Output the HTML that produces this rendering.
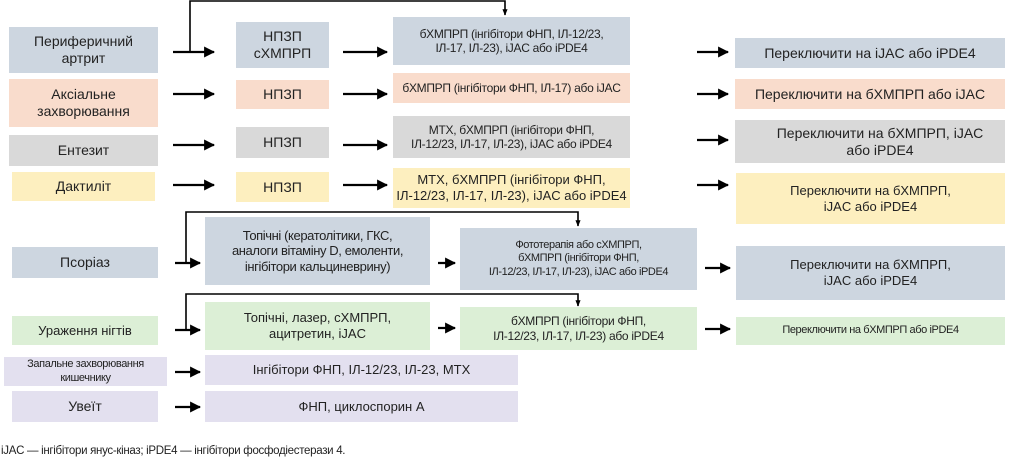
<!DOCTYPE html>
<html><head><meta charset="utf-8"><style>
body{margin:0;width:1016px;height:469px;background:#fff;position:relative;overflow:hidden;font-family:"Liberation Sans",sans-serif;color:#222}
.b{position:absolute;display:flex;align-items:center;justify-content:center;text-align:center;line-height:1.2;box-sizing:border-box}
.bl{background:#cdd6e0}.pe{background:#f9dccc}.gr{background:#d9d9d9}.ye{background:#fdefbf}.gn{background:#dcefd6}.lv{background:#e3e0ef}
.f14{font-size:14px}.f13{font-size:13px}.f12{font-size:12px;letter-spacing:-0.3px}.f11{font-size:11px;letter-spacing:-0.4px}
svg{position:absolute;left:0;top:0}
</style></head><body>
<div class="b bl f14" style="left:9px;top:27px;width:149px;height:46px">Периферичний<br>артрит</div>
<div class="b bl f14" style="left:236px;top:22px;width:93px;height:46px">НПЗП<br>сХМПРП</div>
<div class="b bl f12" style="left:393px;top:17px;width:237px;height:48px">бХМПРП (інгібітори ФНП, ІЛ-12/23,<br>ІЛ-17, ІЛ-23), іJAC або іPDE4</div>
<div class="b bl f14" style="left:735px;top:38px;width:270px;height:30px">Переключити на іJAC або іPDE4</div>

<div class="b pe f14" style="left:9px;top:79px;width:149px;height:48px">Аксіальне<br>захворювання</div>
<div class="b pe f14" style="left:236px;top:80px;width:93px;height:29px">НПЗП</div>
<div class="b pe f12" style="left:393px;top:73px;width:237px;height:30px">бХМПРП (інгібітори ФНП, ІЛ-17) або іJAC</div>
<div class="b pe f14" style="left:735px;top:79px;width:270px;height:30px">Переключити на бХМПРП або іJAC</div>

<div class="b gr f14" style="left:9px;top:135px;width:149px;height:31px">Ентезит</div>
<div class="b gr f14" style="left:236px;top:127px;width:93px;height:31px">НПЗП</div>
<div class="b gr f12" style="left:393px;top:116px;width:237px;height:42px">МТХ, бХМПРП (інгібітори ФНП,<br>ІЛ-12/23, ІЛ-17, ІЛ-23), іJAC або іPDE4</div>
<div class="b gr f14" style="left:735px;top:120px;width:270px;height:43px;padding-left:20px">Переключити на бХМПРП, іJAC<br>або іPDE4</div>

<div class="b ye f14" style="left:12px;top:172px;width:143px;height:29px">Дактиліт</div>
<div class="b ye f14" style="left:236px;top:172px;width:93px;height:30px">НПЗП</div>
<div class="b ye f13" style="left:393px;top:168px;width:237px;height:40px">МТХ, бХМПРП (інгібітори ФНП,<br>ІЛ-12/23, ІЛ-17, ІЛ-23), іJAC або іPDE4</div>
<div class="b ye f13" style="left:736px;top:173px;width:269px;height:51px">Переключити на бХМПРП,<br>іJAC або іPDE4</div>

<div class="b bl f14" style="left:12px;top:247px;width:146px;height:31px">Псоріаз</div>
<div class="b bl f13" style="left:205px;top:217px;width:225px;height:68px;letter-spacing:-0.4px">Топічні (кератолітики, ГКС,<br>аналоги вітаміну D, емоленти,<br>інгібітори кальциневрину)</div>
<div class="b bl f11" style="left:460px;top:228px;width:237px;height:62px">Фототерапія або сХМПРП,<br>бХМПРП (інгібітори ФНП,<br>ІЛ-12/23, ІЛ-17, ІЛ-23), іJAC або іPDE4</div>
<div class="b bl f13" style="left:736px;top:246px;width:269px;height:54px">Переключити на бХМПРП,<br>іJAC або іPDE4</div>

<div class="b gn f13" style="left:12px;top:316px;width:146px;height:29px">Ураження нігтів</div>
<div class="b gn f13" style="left:205px;top:302px;width:225px;height:48px">Топічні, лазер, сХМПРП,<br>ацитретин, іJAC</div>
<div class="b gn f12" style="left:460px;top:307px;width:237px;height:43px">бХМПРП (інгібітори ФНП,<br>ІЛ-12/23, ІЛ-17, ІЛ-23) або іPDE4</div>
<div class="b gn f11" style="left:736px;top:317px;width:269px;height:28px">Переключити на бХМПРП або іPDE4</div>

<div class="b lv f11" style="left:4px;top:357px;width:163px;height:29px">Запальне захворювання<br>кишечнику</div>
<div class="b lv f13" style="left:205px;top:355px;width:313px;height:30px">Інгібітори ФНП, ІЛ-12/23, ІЛ-23, МТХ</div>
<div class="b lv f14" style="left:12px;top:391px;width:146px;height:31px">Увеїт</div>
<div class="b lv f13" style="left:205px;top:391px;width:313px;height:31px">ФНП, циклоспорин А</div>

<div style="position:absolute;left:1px;top:445px;font-size:11.5px;letter-spacing:-0.3px">іJAC — інгібітори янус-кіназ; іPDE4 — інгібітори фосфодіестерази 4.</div>

<svg width="1016" height="469">
<defs><marker id="a" viewBox="0 0 10 10" refX="9" refY="5" markerWidth="5" markerHeight="5" orient="auto"><path d="M0,0 L10,5 L0,10 z" fill="#000"/></marker>
<marker id="s" viewBox="0 0 10 10" refX="9" refY="5" markerWidth="4" markerHeight="4" orient="auto"><path d="M0,1 L10,5 L0,9 z" fill="#000"/></marker></defs>
<g stroke="#000" stroke-width="2.2" fill="none" marker-end="url(#a)">
<path d="M173 52H214"/><path d="M343 52H387"/><path d="M697 52H728"/>
<path d="M173 94H214"/><path d="M343 94H387"/><path d="M697 94H728"/>
<path d="M173 145H214"/><path d="M343 145H387"/><path d="M697 140H728"/>
<path d="M173 185H214"/><path d="M343 185H387"/><path d="M697 185H728"/>
<path d="M175 263H200"/><path d="M438 263H455"/><path d="M705 268H730"/>
<path d="M175 330H200"/><path d="M438 328H455"/><path d="M705 329H730"/>
<path d="M175 372H200"/><path d="M175 407H200"/>
</g>
<g stroke="#000" stroke-width="1.6" fill="none" marker-end="url(#s)">
<path d="M190 52V1H505V15"/>
<path d="M186 262V212H578V226"/>
<path d="M186 330V294H578V306"/>
</g>
</svg>
</body></html>
